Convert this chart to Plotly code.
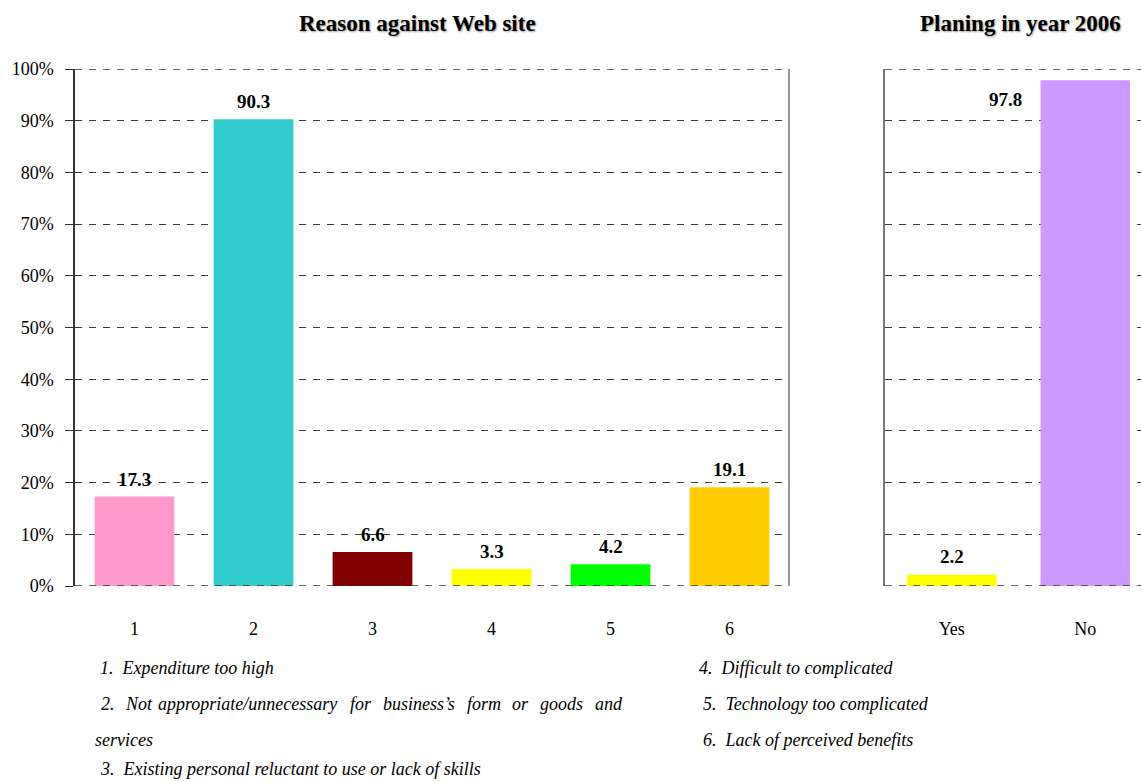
import plotly.graph_objects as go

# Reasons against having a web site (percent of respondents)
reason_codes = ["1", "2", "3", "4", "5", "6"]
reason_values = [17.3, 90.3, 6.6, 3.3, 4.2, 19.1]
reason_colors = ["#FF99CC", "#33CCCC", "#800000", "#FFFF00", "#00FF00", "#FFCC00"]

# Plans for a web site in 2006
plan_answers = ["Yes", "No"]
plan_values = [2.2, 97.8]
plan_colors = ["#FFFF00", "#CC99FF"]

y_ticks = [0, 10, 20, 30, 40, 50, 60, 70, 80, 90, 100]
y_tick_text = [f"{t}%" for t in y_ticks]

reason_notes_left = [
    "1.  Expenditure too high",
    "2.  Not appropriate/unnecessary for business\u2019s form or goods and",
    "services",
    "3.  Existing personal reluctant to use or lack of skills",
]
reason_notes_right = [
    "4.  Difficult to complicated",
    "5.  Technology too complicated",
    "6.  Lack of perceived benefits",
]

W, H = 1141, 782
SERIF = "Liberation Serif, Times New Roman, serif"


def px_x(p):
    return p / W


def px_y(p):
    return 1 - p / H


fig = go.Figure()
fig.add_trace(go.Bar(x=reason_codes, y=reason_values, marker_color=reason_colors,
                     marker_line_width=0, width=0.67, xaxis="x", yaxis="y",
                     showlegend=False, hoverinfo="x+y"))
fig.add_trace(go.Bar(x=plan_answers, y=plan_values, marker_color=plan_colors,
                     marker_line_width=0, width=0.67, xaxis="x2", yaxis="y2",
                     showlegend=False, hoverinfo="x+y"))

y_dom = [px_y(586), px_y(69)]
grid = dict(showgrid=True, gridcolor="#3a3a3a", griddash="7px,7px", gridwidth=1)

fig.update_layout(
    width=W, height=H,
    margin=dict(l=0, r=0, t=0, b=0, pad=0, autoexpand=False),
    showlegend=False,
    paper_bgcolor="white", plot_bgcolor="white",
    font=dict(family=SERIF, size=18, color="black"),
    xaxis=dict(domain=[px_x(75), px_x(789)], range=[-0.5, 5.5], showgrid=False,
               showline=False, ticks="", ticklabelstandoff=30, automargin=False,
               tickfont=dict(family=SERIF, size=18), fixedrange=True),
    yaxis=dict(domain=y_dom, range=[0, 100], tickmode="array", tickvals=y_ticks,
               ticktext=y_tick_text, automargin=False, ticklabelstandoff=8,
               showline=True, linecolor="#333", linewidth=1.5, ticks="outside",
               ticklen=8, tickcolor="#333", zeroline=False,
               tickfont=dict(family=SERIF, size=18), fixedrange=True, **grid),
    xaxis2=dict(domain=[px_x(885), 1], range=[-0.5, 1.5 - (1152 - W) / 133.5],
                showgrid=False, showline=False, ticks="", ticklabelstandoff=30,
                automargin=False,
                tickfont=dict(family=SERIF, size=18), fixedrange=True),
    yaxis2=dict(domain=y_dom, range=[0, 100], tickvals=y_ticks, showticklabels=False,
                showline=True, linecolor="#777", linewidth=1.5, ticks="",
                automargin=False,
                zeroline=False, anchor="x2", fixedrange=True, **grid),
)

shapes = []
for xr in ("x domain", "x2 domain"):
    yr = "y" if xr == "x domain" else "y2"
    for yv in (0, 100):
        shapes.append(dict(type="line", xref=xr, yref=yr, x0=0, x1=1, y0=yv, y1=yv,
                           line=dict(color="#333", width=1.5, dash="7px,7px")))
# right border of the left panel
shapes.append(dict(type="line", xref="x domain", yref="y", x0=1, x1=1, y0=0, y1=100,
                   line=dict(color="#777", width=1.5)))
fig.update_layout(shapes=shapes)

annotations = []
title_font = dict(family=SERIF, size=23, color="black",
                  shadow="1px 1px 2px #9a9a9a")
annotations.append(dict(text="<b>Reason against Web site</b>", xref="paper", yref="paper",
                        x=px_x(417), y=px_y(23), showarrow=False, font=title_font,
                        xanchor="center", yanchor="middle"))
annotations.append(dict(text="<b>Planing in year 2006</b>", xref="paper", yref="paper",
                        x=px_x(1020), y=px_y(23), showarrow=False, font=title_font,
                        xanchor="center", yanchor="middle"))

label_font = dict(family=SERIF, size=19, color="black")
for i, v in enumerate(reason_values):
    annotations.append(dict(text=f"<b>{v}</b>", x=i, y=v, xref="x", yref="y",
                            showarrow=False, yanchor="bottom", yshift=5, font=label_font))
for i, v in enumerate(plan_values):
    shift = dict(xshift=-80, yshift=-32) if v > 90 else dict(yshift=6)
    annotations.append(dict(text=f"<b>{v}</b>", x=i, y=v, xref="x2", yref="y2",
                            showarrow=False, yanchor="bottom", font=label_font, **shift))

note_font = dict(family=SERIF, size=18, color="black")


def note(text, x, y):
    annotations.append(dict(text=f"<i>{text}</i>", xref="paper", yref="paper",
                            x=px_x(x), y=px_y(y), xanchor="left", yanchor="middle",
                            showarrow=False, font=note_font))


note(reason_notes_left[0], 98, 668)
# justified line: spread words across the column width
words = reason_notes_left[1].replace("2.  ", "2. ").split(" ")
word_x = [99, 123, 156, 348, 381, 465, 510, 538, 593]
for w, xx in zip(words, word_x):
    note(w, xx, 704)
note(reason_notes_left[2], 93, 740)
note(reason_notes_left[3], 98, 769)
note(reason_notes_right[0], 697, 668)
note(reason_notes_right[1], 701, 704)
note(reason_notes_right[2], 701, 740)

fig.update_layout(annotations=annotations)
fig.write_html("out.html")
